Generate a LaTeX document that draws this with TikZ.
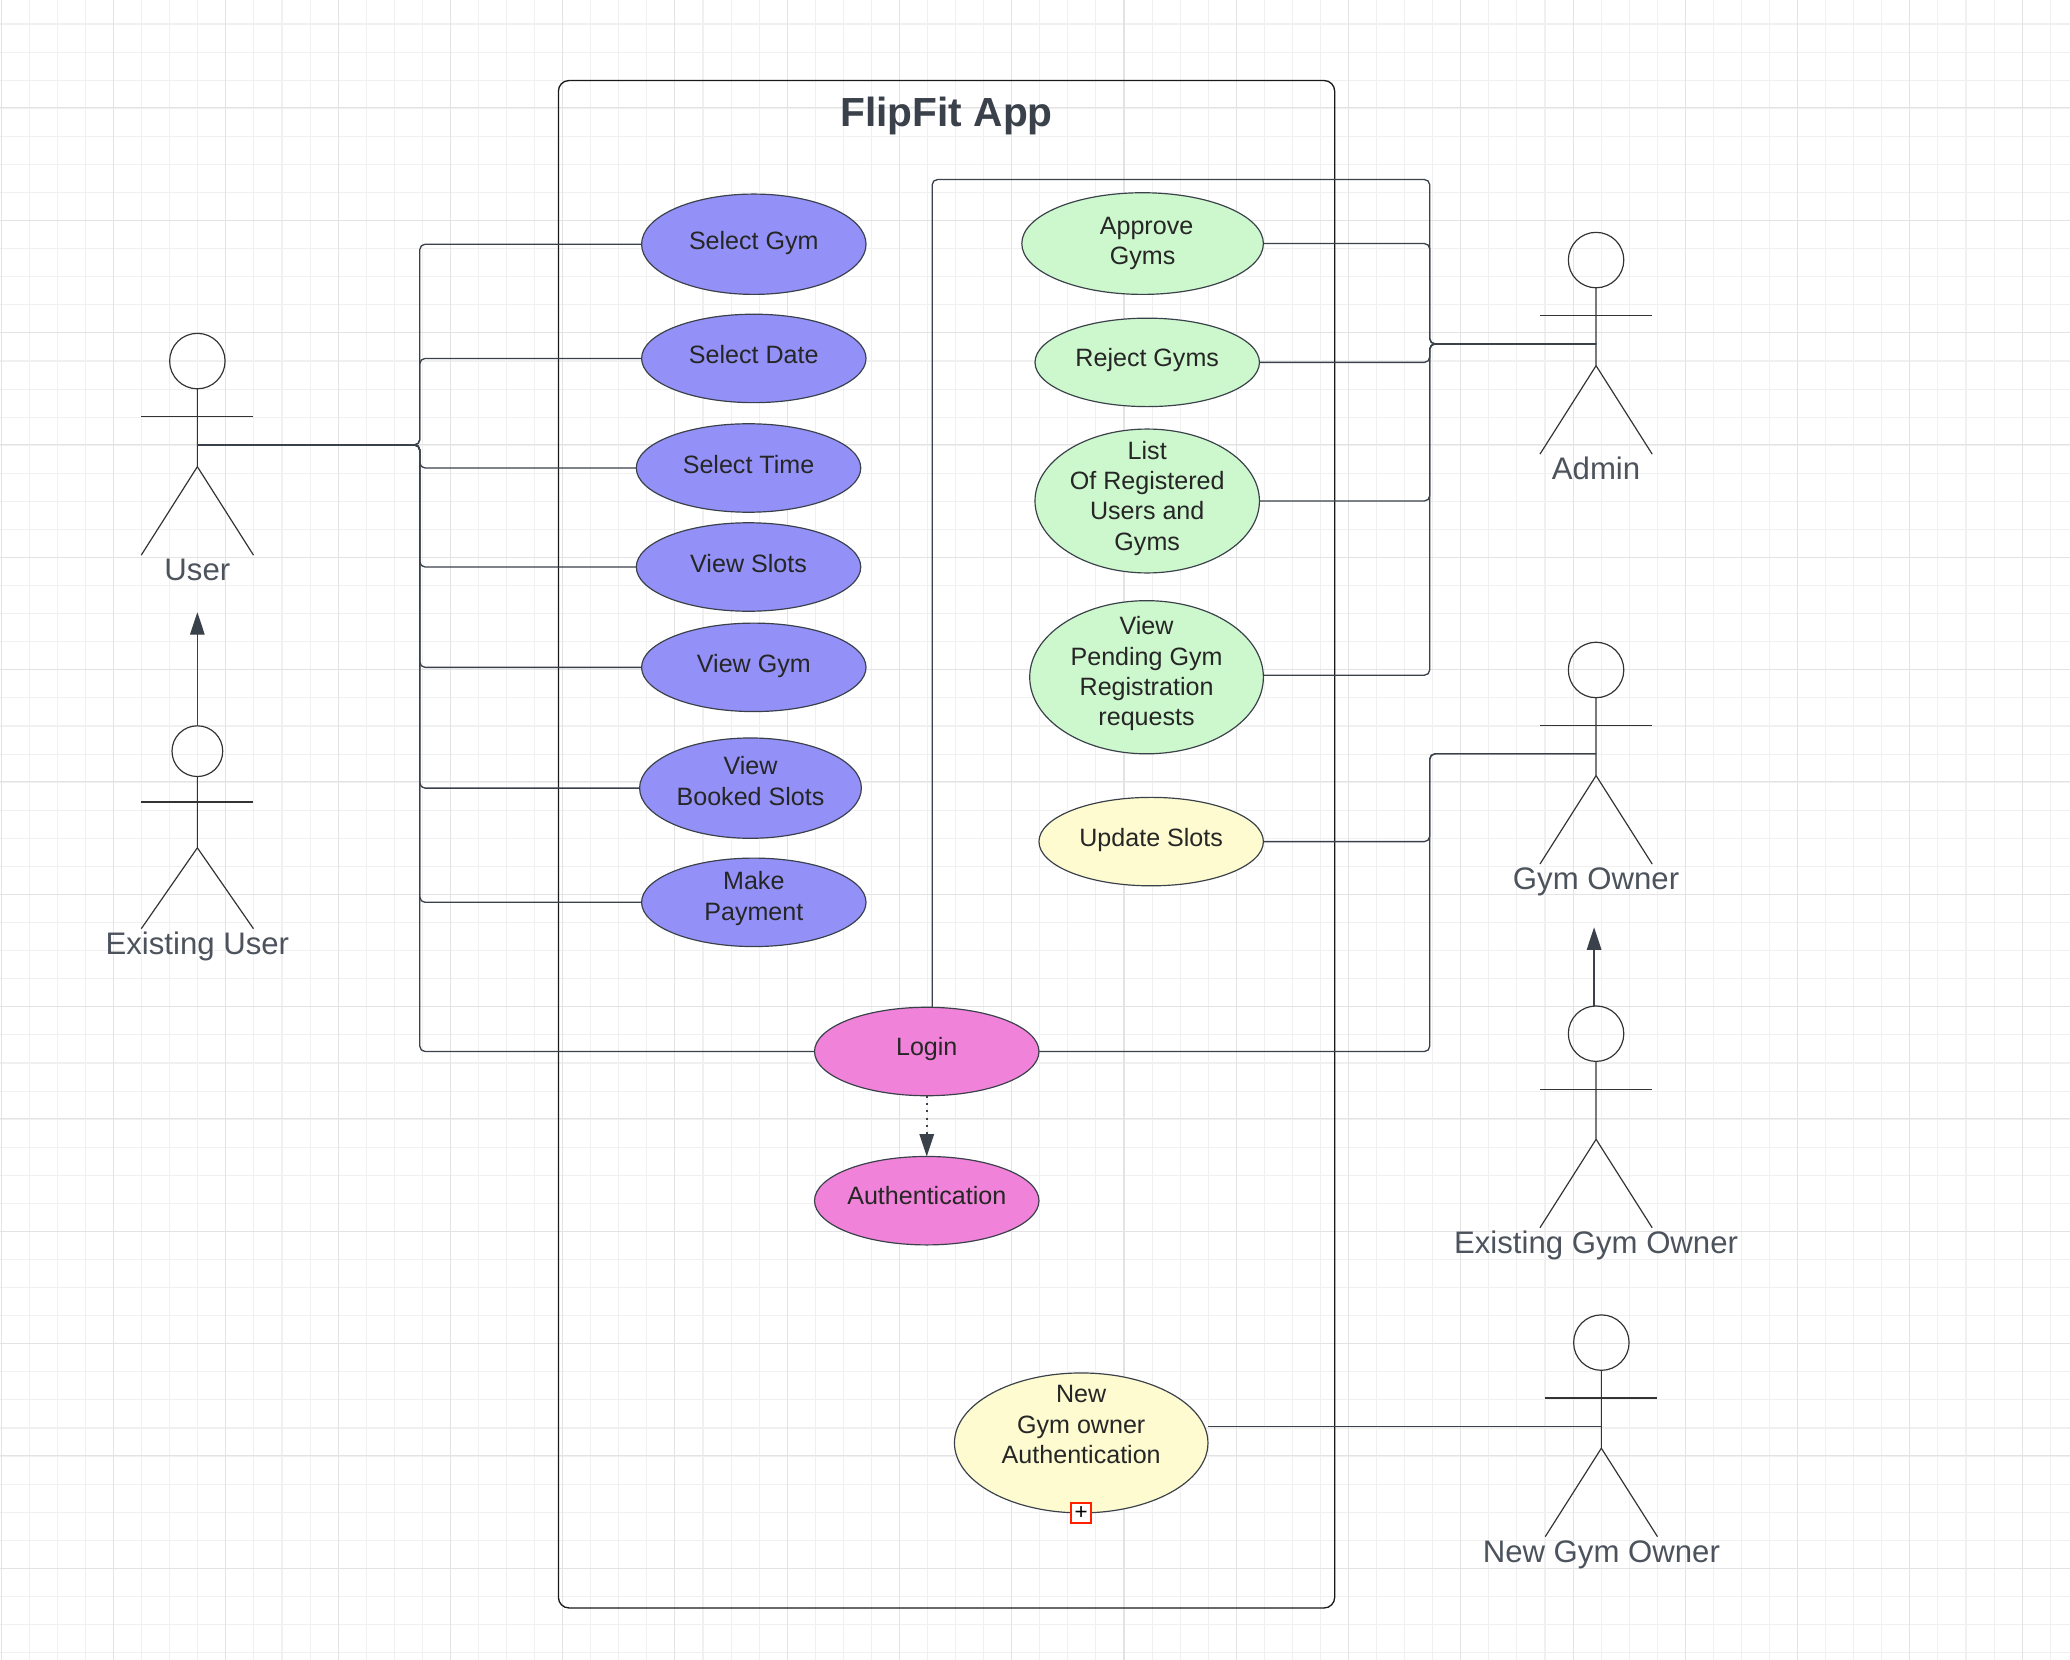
\documentclass[tikz,border=0pt]{standalone}
\usepackage{fontspec}
\setmainfont{Liberation Sans}
\usepackage{xcolor}
\usetikzlibrary{shapes.geometric, arrows.meta, positioning}

\definecolor{inkgray}{HTML}{3A414A}
\definecolor{labelgray}{HTML}{4C535D}
\definecolor{userblue}{HTML}{9391F7}
\definecolor{adminleaf}{HTML}{CDF7CD}
\definecolor{ownercream}{HTML}{FDFBCF}
\definecolor{loginpink}{HTML}{F083D9}

\tikzset{
  gridminor/.style={draw=black!6, line width=0.8pt},
  gridmajor/.style={draw=black!11, line width=0.8pt},
  usecase/.style={ellipse, draw=inkgray, line width=0.9pt, inner sep=-40pt, outer sep=0pt, text=black!85,
    font=\fontsize{19}{23}\selectfont, align=center, minimum width=170pt, minimum height=67pt,
    execute at end node={\rule[-#1]{0pt}{#1}}},
  usecase/.default=6pt,
  conn/.style={draw=inkgray, line width=1pt, rounded corners=4pt},
  arrowline/.style={draw=inkgray, line width=1pt, -{Triangle[length=17pt,width=11pt]}},
  actorhead/.style={circle, draw=black!80, line width=0.9pt, inner sep=0pt, outer sep=0pt},
  actorline/.style={draw=black!80, line width=0.9pt},
  actorname/.style={anchor=base, text=labelgray, font=\fontsize{23.6}{28}\selectfont},
  plusbox/.style={rectangle, draw=red!75!orange, fill=white, line width=1.5pt, inner sep=0pt,
    minimum size=15pt, font=\fontsize{17}{17}\selectfont},
  pics/actor/.style n args={2}{code={
    \node[actorhead, minimum size=42pt*#2] (-head) at (0,0) {};
    \draw[actorline] (-head) -- (0,{80*#2}) -- (-42.5,{147*#2});
    \draw[actorline] (0,{80*#2}) -- (42.5,{147*#2});
    \draw[actorline] (-42.5,{42*#2}) -- (42.5,{42*#2});
    \coordinate (-hub) at (0,{63.5*#2});
    \node[actorname] (-name) at (0,{147*#2+19.5}) {#1};
  }},
}

\begin{document}
\begin{tikzpicture}[x=1pt, y=-1pt]
\useasboundingbox (0,0) rectangle (1568,1257.4);

% Grid
\foreach \k in {0,...,73} \draw[gridminor] ({1+21.26*\k},0) -- ({1+21.26*\k},1257.4);
\foreach \k in {0,...,58} \draw[gridminor] (0,{18.2+21.27*\k}) -- (1568,{18.2+21.27*\k});
\foreach \k in {0,...,18} \draw[gridmajor] ({1+85.04*\k},0) -- ({1+85.04*\k},1257.4);
\foreach \k in {0,...,14} \draw[gridmajor] (0,{-3.3+85.08*\k}) -- (1568,{-3.3+85.08*\k});

% System boundary
\node[draw=black!90, line width=1pt, rounded corners=8pt, outer sep=0pt, minimum width=588pt, minimum height=1157pt] (app) at (717,639.5) {};
\node[below=9pt of app.north, text=inkgray, font=\fontsize{30.8}{36}\selectfont\bfseries] (apptitle) {FlipFit App};

% User use cases
\node[usecase, fill=userblue, minimum height=76pt] (selgym) at (571,185) {Select Gym};
\node[usecase, fill=userblue, below=15pt of selgym] (seldate) {Select Date};
\node[usecase, fill=userblue, below=16pt of seldate, xshift=-4pt] (seltime) {Select Time};
\node[usecase, fill=userblue, below=8pt of seltime] (viewslots) {View Slots};
\node[usecase, fill=userblue, below=9pt of viewslots, xshift=4pt] (viewgym) {View Gym};
\node[usecase=11pt, fill=userblue, below=20pt of viewgym, xshift=-2.5pt, minimum width=168pt, minimum height=76pt] (booked) {View\\Booked Slots};
\node[usecase=10pt, fill=userblue, below=15pt of booked, xshift=2.5pt] (payment) {Make\\Payment};

% Login
\node[usecase=8pt, fill=loginpink, below=46pt of payment, xshift=131pt] (login) {Login};
\node[usecase=8pt, fill=loginpink, below=46pt of login] (auth) {Authentication};

% Admin use cases
\node[usecase=2pt, fill=adminleaf, minimum width=183pt, minimum height=77pt] (approve) at (865.5,184.5) {\hspace*{6pt}Approve\\Gyms};
\node[usecase=8pt, fill=adminleaf, below=18pt of approve, xshift=3.5pt] (reject) {Reject Gyms};
\node[usecase=8pt, fill=adminleaf, below=17pt of reject, minimum height=109pt] (listall) {List\\Of Registered\\Users and\\Gyms};
\node[usecase=9pt, fill=adminleaf, below=21pt of listall, xshift=-0.5pt, minimum width=177pt, minimum height=116pt] (pending) {View\\Pending Gym\\Registration\\requests};

% Gym owner use cases
\node[usecase, fill=ownercream, below=33pt of pending, xshift=3.5pt] (update) {Update Slots};
\node[usecase=28pt, fill=ownercream, below=97pt of auth, xshift=117pt, minimum width=192pt, minimum height=106pt] (newauth) {New\\Gym owner\\Authentication};
\node[plusbox] (expand) at (newauth.south) {+};

% Actors
\pic (user) at (149.5,273.5) {actor={User}{1}};
\pic (existuser) at (149.5,569) {actor={Existing User}{0.915}};
\pic (admin) at (1209,197) {actor={Admin}{1}};
\pic (owner) at (1209,507.5) {actor={Gym Owner}{1}};
\pic (existowner) at (1209,783) {actor={Existing Gym Owner}{1}};
\pic (newowner) at (1213,1017) {actor={New Gym Owner}{1}};

% Lanes
\coordinate (ulane) at (318,336);
\coordinate (alane) at (1083,136);

% User connectors
\foreach \uc in {selgym,seldate,seltime,viewslots,viewgym,booked,payment,login}
  \draw[conn] (user-hub) -| (ulane |- \uc.west) -- (\uc.west);

% Admin connectors
\draw[conn] (login.83) |- (alane) -- (alane |- admin-hub) -- (admin-hub);
\draw[conn] (approve.east) -| (alane |- admin-hub) -- (admin-hub);
\draw[conn] (reject.east) -| (alane |- admin-hub) -- (admin-hub);
\draw[conn] (listall.east) -| (alane |- admin-hub) -- (admin-hub);
\draw[conn] (pending.1) -| (alane |- admin-hub) -- (admin-hub);

% Gym owner connectors
\draw[conn] (update.east) -| (alane |- owner-hub) -- (owner-hub);
\draw[conn] (login.east) -| (alane |- owner-hub) -- (owner-hub);
\draw[conn] (newauth.east |- newowner-hub) -- (newowner-hub);

% Generalisation and include
\draw[arrowline, shorten >=20pt] (existuser-head) -- (user-name);
\draw[arrowline, shorten >=20pt] ([xshift=-1.5pt]existowner-head.north) -- ([xshift=-1.5pt]owner-name.south);
\draw[arrowline, line width=1.2pt, dash pattern=on 1.5pt off 4pt] (login) -- (auth);

\end{tikzpicture}
\end{document}
